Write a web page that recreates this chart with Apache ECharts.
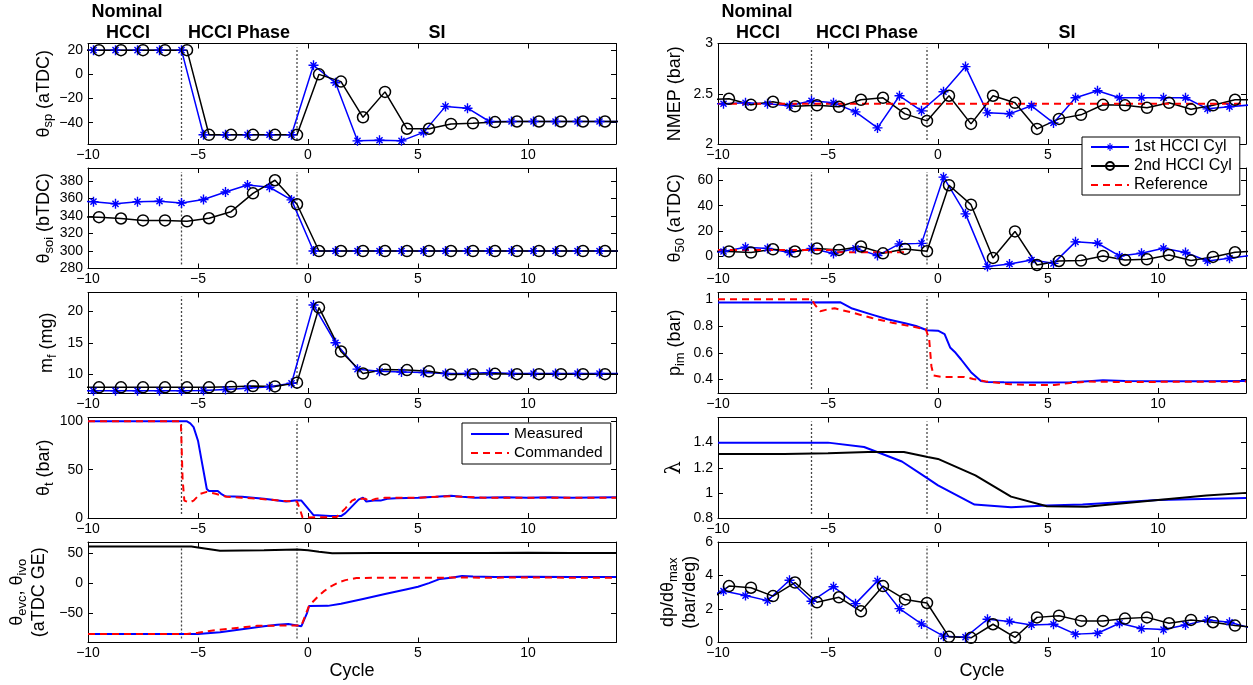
<!DOCTYPE html>
<html>
<head>
<meta charset="utf-8">
<script src="https://cdn.jsdelivr.net/npm/echarts@6.0.0/dist/echarts.min.js"></script>
<style>
  html, body { margin: 0; padding: 0; background: #fff; }
  #chart { width: 1253px; height: 685px; }
</style>
</head>
<body>
<div id="chart"></div>
<script>
// ---- cycle axis ----
const xTicks = [-10, -5, 0, 5, 10];
const phaseSwitches = [-5.75, -0.5];

// firing instants of the two HCCI cylinders (cycle units)
const cyl1X = [-10.75, -9.75, -8.75, -7.75, -6.75, -5.75, -4.75, -3.75, -2.75, -1.75, -0.75,
  0.25, 1.25, 2.25, 3.25, 4.25, 5.25, 6.25, 7.25, 8.25, 9.25, 10.25, 11.25, 12.25, 13.25, 14.25];
const cyl2X = [-10.5, -9.5, -8.5, -7.5, -6.5, -5.5, -4.5, -3.5, -2.5, -1.5, -0.5,
  0.5, 1.5, 2.5, 3.5, 4.5, 5.5, 6.5, 7.5, 8.5, 9.5, 10.5, 11.5, 12.5, 13.5, 14.5];

// spark timing (aTDC)
const spCyl1 = [20, 20, 20, 20, 20, 20, -50, -50, -50, -50, -50,
  7.5, -7, -55, -54.5, -55, -48, -26.5, -28, -39, -39, -39, -39, -39, -39, -39];
const spCyl2 = [20, 20, 20, 20, 20, 20, -50, -50, -50, -50, -50,
  0, -6, -35.5, -14.5, -45, -45, -41, -40.5, -39.5, -39, -39, -39, -39, -39, -39];

// start of injection (bTDC)
const soiCyl1 = [357, 356.5, 354, 356.5, 357, 355, 359, 367.5, 375.5, 373, 358.5,
  300, 300, 300, 300, 300, 300, 300, 300, 300, 300, 300, 300, 300, 300, 300];
const soiCyl2 = [339, 338.7, 337.2, 335, 335, 334, 337.5, 345, 366, 381, 353.5,
  300, 300, 300, 300, 300, 300, 300, 300, 300, 300, 300, 300, 300, 300, 300];

// fuel mass (mg)
const mfCyl1 = [7.35, 7.35, 7.35, 7.35, 7.35, 7.35, 7.4, 7.55, 7.75, 8.0, 8.55,
  21, 15, 10.8, 10.45, 10.35, 10.25, 10.1, 10.1, 10.25, 10.1, 10.1, 10.1, 10.1, 10.1, 10.1];
const mfCyl2 = [7.9, 7.9, 7.9, 7.9, 7.9, 7.9, 7.9, 8.0, 8.1, 8.05, 8.65,
  20.6, 13.6, 10.1, 10.75, 10.65, 10.45, 9.95, 10, 10.05, 10, 10, 10, 10, 10, 10];

// throttle (measured / commanded)
const throttleMeasured = [[-10, 100], [-5.5, 100], [-5.35, 98], [-5.2, 94], [-5.0, 80], [-4.8, 55], [-4.6, 30],
  [-4.5, 28], [-4.1, 28], [-3.95, 25], [-3.75, 22.5], [-3.0, 22], [-2.0, 20], [-1.0, 17], [-0.6, 18],
  [-0.3, 18], [0.25, 3], [1.0, 2], [1.5, 2], [1.7, 5], [2.0, 12], [2.3, 19], [2.5, 21], [2.65, 17],
  [3.0, 18], [3.3, 18], [3.6, 20], [4.0, 20.5], [5.0, 21], [5.8, 22], [6.5, 23], [7.0, 22], [7.6, 21],
  [9.0, 21.5], [10, 21], [11, 21.5], [12, 21], [14, 21.5]];
const throttleCommanded = [[-10, 100], [-5.78, 100], [-5.7, 40], [-5.62, 18], [-5.4, 16], [-5.2, 18],
  [-4.9, 25], [-4.6, 27], [-4.2, 25], [-3.7, 22], [-3.0, 21], [-2.0, 19.5], [-1.0, 17.5], [-0.5, 17],
  [-0.35, 8], [-0.25, 0.5], [1.3, 1], [1.7, 10], [2.0, 18], [2.2, 20], [2.6, 20], [2.8, 17.5], [3.1, 20],
  [3.5, 21], [5, 21], [6, 22], [6.5, 22.5], [7, 22], [8, 21], [10, 21], [14, 21]];

// valve timing (aTDC GE)
const ivoMeasured = [[-10, 60.5], [-7, 60.5], [-5.3, 60.5], [-5, 59], [-4, 53.5], [-2, 54.5], [-0.5, 55.5],
  [0, 54.5], [0.5, 52], [1.1, 49.5], [3, 50], [5, 49.8], [8, 50], [10, 50.2], [12, 50], [14, 49.8]];
const evcMeasured = [[-10, -84], [-5, -84], [-4, -81], [-3, -76], [-2, -71], [-1.4, -68.5], [-0.9, -67.5],
  [-0.3, -71], [-0.05, -50], [0.05, -37.6], [0.9, -37.5], [1.5, -34], [2.5, -26], [3.5, -18], [4.5, -10],
  [5.0, -6], [5.5, 0], [6.0, 7], [6.5, 9], [7.0, 12], [7.5, 11], [8.5, 10], [10, 10.5], [12, 10], [14, 10]];
const evcCommanded = [[-10, -84], [-5.5, -84], [-5, -82], [-4.4, -78.5], [-3.5, -75], [-2.3, -70.5],
  [-1.0, -70], [-0.3, -70], [0.05, -37], [0.4, -24], [0.7, -14], [1.0, -6], [1.4, 1.5], [1.7, 5],
  [2.2, 8.5], [3, 9], [6, 9], [7, 9.5], [8, 9], [10, 9.5], [12, 9], [14, 9]];

// net mean effective pressure (bar)
const nmepCyl1 = [2.40, 2.40, 2.41, 2.40, 2.38, 2.43, 2.41, 2.32, 2.16, 2.48, 2.33,
  2.52, 2.77, 2.31, 2.30, 2.38, 2.21, 2.46, 2.53, 2.46, 2.46, 2.46, 2.46, 2.35, 2.37, 2.39];
const nmepCyl2 = [2.44, 2.45, 2.39, 2.42, 2.375, 2.385, 2.37, 2.44, 2.46, 2.30, 2.23,
  2.48, 2.20, 2.48, 2.41, 2.15, 2.25, 2.29, 2.39, 2.385, 2.36, 2.41, 2.345, 2.385, 2.44, 2.44];
const nmepReference = [[-10, 2.4], [14, 2.4]];

// combustion phasing (aTDC)
const th50Cyl1 = [2, 3.5, 7, 6, 2.7, 6, 2, 6, 0.3, 9.6, 10,
  62.7, 33.5, -8.5, -6.4, -3.2, -5.9, 11.2, 10.1, 0, 2.1, 6.1, 2.7, -4, -1.9, 0.5];
const th50Cyl2 = [4, 3.5, 2.7, 5.3, 3.5, 5.9, 4.8, 7.5, 2.1, 5.6, 3.7,
  56.3, 40.8, -1.6, 19.5, -7.2, -4, -3.7, 0, -3.2, -2.7, 0.8, -3.7, -0.8, 2.9, 4];
const th50Reference = [[-10, 4.8], [-4.7, 4.8], [-4.6, 3], [-1.3, 3]];

// intake manifold pressure (bar)
const pimMeasured = [[-10, 0.975], [-7, 0.975], [-4.45, 0.978], [-3.9, 0.93], [-3, 0.885], [-2.3, 0.85],
  [-1.5, 0.82], [-1.0, 0.80], [-0.5, 0.768], [0, 0.765], [0.3, 0.74], [0.55, 0.64], [0.8, 0.6],
  [1.05, 0.55], [1.5, 0.455], [1.95, 0.39], [2.2, 0.383], [3, 0.38], [4, 0.378], [5, 0.378], [6, 0.38],
  [7, 0.39], [7.5, 0.395], [8.5, 0.39], [10, 0.388], [12, 0.388], [14, 0.39]];
const pimReference = [[-10, 1.0], [-5.75, 1.0], [-5.6, 0.96], [-5.35, 0.91], [-5.0, 0.925], [-4.7, 0.932],
  [-3.9, 0.9], [-3, 0.86], [-2.1, 0.825], [-1.0, 0.79], [-0.55, 0.775], [-0.4, 0.7], [-0.3, 0.5],
  [-0.2, 0.43], [0.2, 0.42], [1.2, 0.42], [1.6, 0.405], [2.2, 0.385], [3.3, 0.365], [4, 0.36],
  [5.3, 0.36], [6, 0.375], [6.8, 0.385], [8, 0.383], [10, 0.383], [14, 0.385]];

// air-fuel equivalence ratio
const lambdaCyl1 = [[-10, 1.4], [-5, 1.4], [-3.36, 1.365], [-1.64, 1.25], [-0.56, 1.125], [0, 1.06],
  [1.66, 0.907], [3.32, 0.885], [4.95, 0.9], [6.57, 0.907], [10, 0.944], [14, 0.96]];
const lambdaCyl2 = [[-10, 1.31], [-7, 1.31], [-5, 1.315], [-3.18, 1.325], [-1.55, 1.325], [-0.47, 1.285],
  [0, 1.27], [1.7, 1.139], [3.32, 0.97], [4.95, 0.893], [6.75, 0.89], [10, 0.944], [12.2, 0.98], [14, 1.0]];

// peak pressure rise rate (bar/deg)
const dpCyl1 = [2.6, 3.07, 2.8, 2.5, 3.72, 2.46, 3.33, 2.32, 3.68, 2.02, 1.11,
  0.38, 0.32, 1.39, 1.25, 1.05, 1.09, 0.5, 0.55, 1.15, 0.83, 0.77, 1.05, 1.35, 1.21, 0.85];
const dpCyl2 = [2.4, 3.37, 3.27, 2.77, 3.58, 2.4, 2.7, 1.86, 3.37, 2.57, 2.36,
  0.34, 0.28, 1.09, 0.3, 1.5, 1.6, 1.29, 1.29, 1.43, 1.5, 1.15, 1.35, 1.21, 1.01, 0.9];

// ---- drawing ----
const FONT = '"Liberation Sans", Arial, Helvetica, sans-serif';
const BLUE = '#0000ff', RED = '#ff0000', BLACK = '#000000';
// asterisk marker: four filled bars (horizontal, vertical, two diagonals)
const ASTERISK = 'path://M0 8.6 L20 8.6 L20 11.4 L0 11.4 Z M8.6 0 L11.4 0 L11.4 20 L8.6 20 Z ' +
  'M4.9 2.9 L17.1 15.1 L15.1 17.1 L2.9 4.9 Z M15.1 2.9 L17.1 4.9 L4.9 17.1 L2.9 15.1 Z';

const zip = (xs, ys) => xs.map((x, i) => [x, ys[i]]);
const minus = v => String(v).replace('-', '\u2212');

const colLeft = [88, 718];
const colWidth = 528;
const rowTop = [43.5, 168, 292.5, 417.5, 542];
const rowHeight = 100.5;

const styles = {
  cyl1: { name: '1st HCCI Cyl', color: BLUE, width: 1.5, symbol: ASTERISK, size: 10 },
  cyl2: { name: '2nd HCCI Cyl', color: BLACK, width: 1.5, symbol: 'circle', size: 11, hollow: true },
  ref: { name: 'Reference', color: RED, width: 2, dashed: true },
  meas: { name: 'Measured', color: BLUE, width: 2 },
  cmd: { name: 'Commanded', color: RED, width: 2, dashed: true },
  blk: { name: 'black', color: BLACK, width: 2 }
};

const panels = [
  { col: 0, row: 0, ylim: [-57.6, 25.5], yt: [-40, -20, 0, 20], name: '\u03b8{s|sp} (aTDC)', gap: 30,
    lines: [['cyl1', zip(cyl1X, spCyl1)], ['cyl2', zip(cyl2X, spCyl2)]] },
  { col: 0, row: 1, ylim: [280, 395], yt: [280, 300, 320, 340, 360, 380], name: '\u03b8{s|soi} (bTDC)', gap: 30,
    lines: [['cyl1', zip(cyl1X, soiCyl1)], ['cyl2', zip(cyl2X, soiCyl2)]] },
  { col: 0, row: 2, ylim: [7, 23], yt: [10, 15, 20], name: 'm{s|f} (mg)', gap: 30,
    lines: [['cyl1', zip(cyl1X, mfCyl1)], ['cyl2', zip(cyl2X, mfCyl2)]] },
  { col: 0, row: 3, ylim: [0, 104], yt: [0, 50, 100], name: '\u03b8{s|t} (bar)', gap: 30,
    lines: [['meas', throttleMeasured], ['cmd', throttleCommanded]] },
  { col: 0, row: 4, ylim: [-98, 68], yt: [-50, 0, 50], name: '\u03b8{s|evc}, \u03b8{s|ivo}\n(aTDC GE)', gap: 38,
    xname: 'Cycle',
    lines: [['blk', ivoMeasured], ['meas', evcMeasured], ['cmd', evcCommanded]] },
  { col: 1, row: 0, ylim: [2, 3], yt: [2, 2.5, 3], name: 'NMEP (bar)', gap: 32,
    lines: [['cyl1', zip(cyl1X, nmepCyl1)], ['cyl2', zip(cyl2X, nmepCyl2)], ['ref', nmepReference]] },
  { col: 1, row: 1, ylim: [-10, 70], yt: [0, 20, 40, 60], name: '\u03b8{s|50} (aTDC)', gap: 32,
    lines: [['cyl1', zip(cyl1X, th50Cyl1)], ['cyl2', zip(cyl2X, th50Cyl2)], ['ref', th50Reference]] },
  { col: 1, row: 2, ylim: [0.3, 1.05], yt: [0.4, 0.6, 0.8, 1], name: 'p{s|im} (bar)', gap: 32,
    lines: [['meas', pimMeasured], ['cmd', pimReference]] },
  { col: 1, row: 3, ylim: [0.8, 1.6], yt: [0.8, 1, 1.2, 1.4], name: '{l|\u03bb}', gap: 32,
    lines: [['meas', lambdaCyl1], ['blk', lambdaCyl2]] },
  { col: 1, row: 4, ylim: [0, 6], yt: [0, 2, 4, 6], name: 'dp/d\u03b8{s|max}\n(bar/deg)', gap: 15,
    xname: 'Cycle',
    lines: [['cyl1', zip(cyl1X, dpCyl1)], ['cyl2', zip(cyl2X, dpCyl2)]] }
];

// plain-line legend entries carry no marker
const noMarker = { color: 'rgba(0,0,0,0)', borderWidth: 0, opacity: 0 };

const option = {
  animation: false,
  backgroundColor: '#ffffff',
  grid: [], xAxis: [], yAxis: [], series: [],
  legend: [
    { data: [{ name: 'Measured', itemStyle: noMarker }, { name: 'Commanded', itemStyle: noMarker }],
      left: 462, top: 423, orient: 'vertical',
      itemWidth: 38, itemHeight: 10, itemGap: 3, padding: [3, 8, 3, 8],
      borderColor: '#000', borderWidth: 1, backgroundColor: '#fff', selectedMode: false,
      textStyle: { fontSize: 15.5, fontFamily: FONT, color: '#000' } },
    { data: ['1st HCCI Cyl', '2nd HCCI Cyl', { name: 'Reference', itemStyle: noMarker }],
      left: 1082, top: 137, orient: 'vertical',
      itemWidth: 38, itemHeight: 10, itemGap: 3, padding: [2, 8, 2, 8],
      borderColor: '#000', borderWidth: 1, backgroundColor: '#fff', selectedMode: false,
      textStyle: { fontSize: 16, fontFamily: FONT, color: '#000' } }
  ],
  graphic: []
};

panels.forEach((p, i) => {
  option.grid.push({ left: colLeft[p.col], top: rowTop[p.row], width: colWidth, height: rowHeight });
  const axisLine = { onZero: false, lineStyle: { color: '#000', width: 1 } };
  const tickStyle = { color: '#000', width: 1 };
  const labelStyle = { color: '#000', fontSize: 14, fontFamily: FONT };
  // bottom + top cycle axes
  option.xAxis.push({
    type: 'value', gridIndex: i, min: -10, max: 14, position: 'bottom', axisLine,
    axisTick: { inside: true, length: 5, customValues: xTicks, lineStyle: tickStyle },
    axisLabel: Object.assign({ customValues: xTicks, formatter: minus, margin: 4 }, labelStyle),
    splitLine: { show: false },
    name: p.xname || '', nameLocation: 'middle', nameGap: 20,
    nameTextStyle: { fontSize: 18, fontFamily: FONT, color: '#000', verticalAlign: 'top' }
  });
  option.xAxis.push({
    type: 'value', gridIndex: i, min: -10, max: 14, position: 'top', axisLine,
    axisTick: { inside: true, length: 5, customValues: xTicks, lineStyle: tickStyle },
    axisLabel: { show: false }, splitLine: { show: false }
  });
  // left + right value axes
  option.yAxis.push({
    type: 'value', gridIndex: i, min: p.ylim[0], max: p.ylim[1], position: 'left', axisLine,
    axisTick: { inside: true, length: 5, customValues: p.yt, lineStyle: tickStyle },
    axisLabel: Object.assign({ customValues: p.yt, formatter: minus, margin: 5 }, labelStyle),
    splitLine: { show: false },
    name: p.name, nameLocation: 'middle', nameRotate: 90, nameGap: p.gap,
    nameTextStyle: {
      fontSize: 18, fontFamily: FONT, color: '#000', lineHeight: 22,
      rich: {
        s: { fontSize: 13, fontFamily: FONT, color: '#000', padding: [10, 0, 0, 0] },
        l: { fontSize: 21, fontFamily: '"DejaVu Serif", "Liberation Serif", serif', color: '#000' }
      }
    }
  });
  option.yAxis.push({
    type: 'value', gridIndex: i, min: p.ylim[0], max: p.ylim[1], position: 'right', axisLine,
    axisTick: { inside: true, length: 5, customValues: p.yt, lineStyle: tickStyle },
    axisLabel: { show: false }, splitLine: { show: false }
  });

  // dotted phase-switch markers
  const span = p.ylim[1] - p.ylim[0];
  phaseSwitches.forEach(xv => {
    option.series.push({
      type: 'line', xAxisIndex: 2 * i, yAxisIndex: 2 * i, silent: true, symbol: 'none',
      data: [[xv, p.ylim[0] + 0.04 * span], [xv, p.ylim[1] - 0.04 * span]],
      lineStyle: { color: '#444', width: 1.3, type: [2, 2] }, z: 1
    });
  });

  p.lines.forEach(([kind, data]) => {
    const s = styles[kind];
    const ser = {
      type: 'line', name: s.name, xAxisIndex: 2 * i, yAxisIndex: 2 * i, data, clip: true,
      color: s.color,
      lineStyle: { color: s.color, width: s.width, type: s.dashed ? [7, 5] : 'solid' },
      symbol: s.symbol || 'none', symbolSize: s.size || 0, showSymbol: !!s.symbol,
      emphasis: { disabled: true }, z: 2
    };
    if (s.symbol) {
      ser.itemStyle = s.hollow
        ? { color: 'rgba(0,0,0,0)', borderColor: s.color, borderWidth: 1.5 }
        : { color: s.color, borderWidth: 0 };
    }
    option.series.push(ser);
  });
});

// phase headings above both columns
const headFont = 'bold 18px ' + FONT;
const headings = [
  ['Nominal', 127, 12], ['HCCI', 128, 33], ['HCCI Phase', 239, 33], ['SI', 437, 33],
  ['Nominal', 757, 12], ['HCCI', 758, 33], ['HCCI Phase', 867, 33], ['SI', 1067, 33]
];
headings.forEach(([t, x, y]) => {
  option.graphic.push({
    type: 'text', x, y, silent: true,
    style: { text: t, font: headFont, fill: '#000', align: 'center', verticalAlign: 'middle' }
  });
});

const chart = echarts.init(document.getElementById('chart'), null, { renderer: 'canvas' });
chart.setOption(option);
</script>
</body>
</html>
